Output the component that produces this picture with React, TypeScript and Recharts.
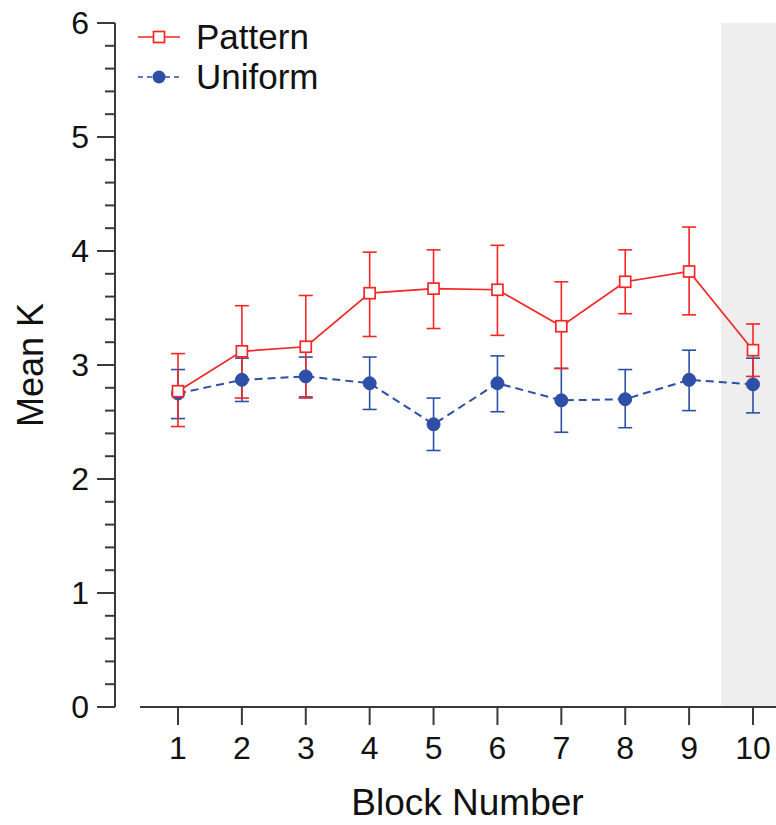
import {
  ComposedChart,
  ErrorBar,
  Legend,
  Line,
  ReferenceArea,
  ReferenceLine,
  XAxis,
  YAxis
} from "recharts";

const blocks = [1, 2, 3, 4, 5, 6, 7, 8, 9, 10];
const patternMean = [2.77, 3.12, 3.16, 3.63, 3.67, 3.66, 3.34, 3.73, 3.82, 3.13];
const patternHigh = [3.1, 3.52, 3.61, 3.99, 4.01, 4.05, 3.73, 4.01, 4.21, 3.36];
const patternLow = [2.46, 2.71, 2.71, 3.25, 3.32, 3.26, 2.97, 3.45, 3.44, 2.9];
const uniformMean = [2.75, 2.87, 2.9, 2.84, 2.48, 2.84, 2.69, 2.7, 2.87, 2.83];
const uniformHigh = [2.96, 3.06, 3.07, 3.07, 2.71, 3.08, 2.97, 2.96, 3.13, 3.06];
const uniformLow = [2.53, 2.68, 2.72, 2.61, 2.25, 2.59, 2.41, 2.45, 2.6, 2.58];

const xTicks = [1, 2, 3, 4, 5, 6, 7, 8, 9, 10];
const yMajor = [0, 1, 2, 3, 4, 5, 6];
const yTicks = Array.from({ length: 31 }, (_, i) => Math.round(i * 2) / 10);

const RED = "#f42626";
const BLUE = "#2d4fa5";
const AXIS = "#3a3a3a";
const FONT = '"Liberation Sans", Arial, Helvetica, sans-serif';

const data = blocks.map((block, i) => ({
  block,
  pattern: patternMean[i],
  patternErr: [patternMean[i] - patternLow[i], patternHigh[i] - patternMean[i]],
  uniform: uniformMean[i],
  uniformErr: [uniformMean[i] - uniformLow[i], uniformHigh[i] - uniformMean[i]]
}));

function YTick({ x, y, payload }: any) {
  const major = yMajor.includes(payload.value);
  return (
    <g>
      <line x1={x} x2={x - (major ? 18 : 10)} y1={y} y2={y} stroke={AXIS} strokeWidth={2} />
      {major && (
        <text x={x - 26} y={y} textAnchor="end" dominantBaseline="central" fontSize={32} fill="#111" fontFamily={FONT}>
          {payload.value}
        </text>
      )}
    </g>
  );
}

function SquareDot({ cx, cy, index }: any) {
  return (
    <rect key={`sq-${index}`} x={cx - 5.5} y={cy - 5.5} width={11} height={11} fill="#fff" stroke={RED} strokeWidth={1.7} />
  );
}

function LegendBox() {
  const rows = [
    { name: "Pattern", color: RED, dash: undefined, square: true },
    { name: "Uniform", color: BLUE, dash: "5 4", square: false }
  ];
  return (
    <div style={{ fontFamily: FONT }}>
      {rows.map((r) => (
        <div key={r.name} style={{ display: "flex", alignItems: "center", height: 40 }}>
          <svg width={60} height={30}>
            <line x1={2} x2={44} y1={15} y2={15} stroke={r.color} strokeWidth={1.7} strokeDasharray={r.dash} />
            {r.square ? (
              <rect x={17.5} y={9.5} width={11} height={11} fill="#fff" stroke={r.color} strokeWidth={1.7} />
            ) : (
              <circle cx={23} cy={15} r={6.5} fill={r.color} />
            )}
          </svg>
          <span style={{ fontSize: 35, color: "#111", lineHeight: "40px" }}>{r.name}</span>
        </div>
      ))}
    </div>
  );
}

export default function App() {
  return (
    <div style={{ position: "absolute", left: 0, top: 0, background: "#fff" }}>
      <ComposedChart width={776} height={825} data={data} margin={{ top: 23, right: 0, bottom: 0, left: 0 }}>
        <ReferenceArea x1={9.5} x2={10.36} y1={0} y2={6} fill="#eeeeee" fillOpacity={1} stroke="none" />
        <XAxis
          dataKey="block"
          type="number"
          domain={[0.014, 10.36]}
          allowDataOverflow
          ticks={xTicks}
          interval={0}
          height={118}
          axisLine={false}
          tickSize={18}
          tickMargin={11}
          tickLine={{ stroke: AXIS, strokeWidth: 2 }}
          tick={{ fontSize: 32, fill: "#111", fontFamily: FONT }}
          label={({ viewBox }: any) => (
            <text
              x={viewBox.x + viewBox.width / 2 + 22}
              y={viewBox.y + viewBox.height - 10}
              textAnchor="middle"
              fontSize={37}
              fill="#111"
              fontFamily={FONT}
            >
              Block Number
            </text>
          )}
        />
        <YAxis
          type="number"
          domain={[0, 6]}
          ticks={yTicks}
          interval={0}
          width={115}
          tickSize={0}
          tickMargin={0}
          tickLine={false}
          axisLine={{ stroke: AXIS, strokeWidth: 2 }}
          tick={<YTick />}
          label={({ viewBox }: any) => (
            <text
              x={30}
              y={viewBox.y + viewBox.height / 2}
              transform={`rotate(-90 30 ${viewBox.y + viewBox.height / 2})`}
              textAnchor="middle"
              dominantBaseline="central"
              fontSize={36}
              fill="#111"
              fontFamily={FONT}
            >
              Mean K
            </text>
          )}
        />
        <ReferenceLine
          segment={[
            { x: 0.405, y: 0 },
            { x: 10.36, y: 0 }
          ]}
          stroke={AXIS}
          strokeWidth={2}
        />
        <Legend
          layout="vertical"
          align="center"
          verticalAlign="middle"
          wrapperStyle={{ top: 17, left: 136, width: 280 }}
          content={() => <LegendBox />}
        />
        <Line
          dataKey="uniform"
          stroke={BLUE}
          strokeWidth={2}
          strokeDasharray="8 5"
          dot={{ r: 6.5, fill: BLUE, stroke: BLUE, strokeWidth: 1, strokeDasharray: "" }}
          isAnimationActive={false}
        >
          <ErrorBar dataKey="uniformErr" width={7} stroke={BLUE} strokeWidth={1.6} />
        </Line>
        <Line
          dataKey="pattern"
          stroke={RED}
          strokeWidth={1.7}
          dot={<SquareDot />}
          isAnimationActive={false}
        >
          <ErrorBar dataKey="patternErr" width={7} stroke={RED} strokeWidth={1.6} />
        </Line>
      </ComposedChart>
    </div>
  );
}
